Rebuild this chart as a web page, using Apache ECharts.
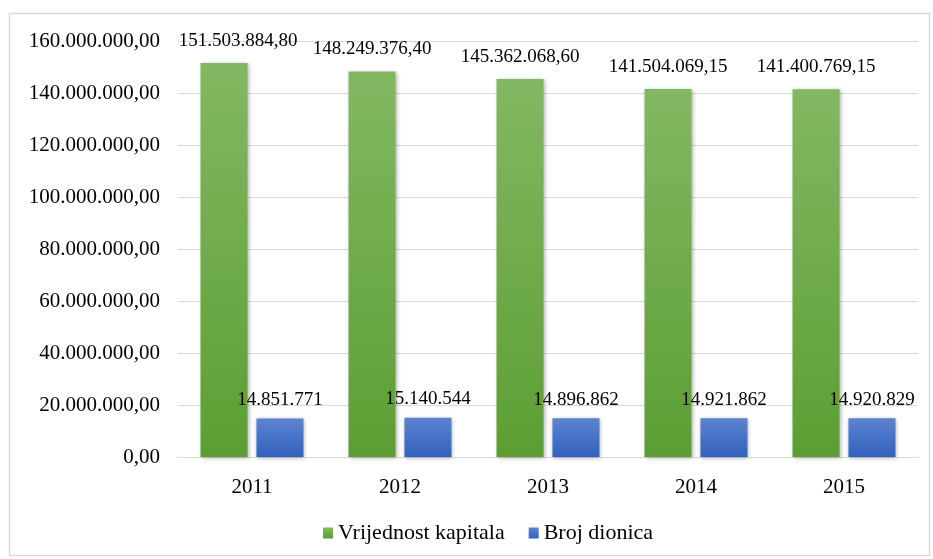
<!DOCTYPE html>
<html><head><meta charset="utf-8">
<script src="https://cdn.jsdelivr.net/npm/echarts@6/dist/echarts.min.js"></script>
<style>html,body{margin:0;padding:0;background:#fff}#c{width:933px;height:559px}</style>
</head><body><div id="c"></div>
<script>
const categories = ['2011','2012','2013','2014','2015'];
const capitalValues = [151503884.80, 148249376.40, 145362068.60, 141504069.15, 141400769.15];
const shareCounts = [14851771, 15140544, 14896862, 14921862, 14920829];
const seriesNames = ['Vrijednost kapitala', 'Broj dionica'];

function fmt(v, dec) {
  const s = v.toFixed(dec);
  const parts = s.split('.');
  const intPart = parts[0].replace(/\B(?=(\d{3})+(?!\d))/g, '.');
  return dec > 0 ? intPart + ',' + parts[1] : intPart;
}
const serif = '"Liberation Serif", "Times New Roman", serif';
const chart = echarts.init(document.getElementById('c'));
chart.setOption({
  animation: false,
  textStyle: { fontFamily: serif },
  graphic: [{ type: 'rect', shape: { x: 9.5, y: 13.5, width: 920, height: 542 }, style: { fill: 'none', stroke: '#d9d9d9', lineWidth: 1.5 }, silent: true }],
  grid: { left: 178, right: 15, top: 41, bottom: 102 },
  legend: {
    bottom: 10, left: 318, itemWidth: 10, itemHeight: 11, itemGap: 24,
    icon: 'rect',
    textStyle: { fontFamily: 'Liberation Serif', fontSize: 22, color: '#000' },
    data: seriesNames
  },
  xAxis: {
    type: 'category', data: categories,
    axisLine: { lineStyle: { color: '#d9d9d9', width: 1 } },
    axisTick: { show: false },
    axisLabel: { color: '#000', fontSize: 21, margin: 20, fontFamily: serif }
  },
  yAxis: {
    type: 'value', min: 0, max: 160000000, interval: 20000000,
    axisLine: { show: false }, axisTick: { show: false },
    splitLine: { lineStyle: { color: '#d9d9d9', width: 1 } },
    axisLabel: { color: '#000', fontSize: 21, margin: 18, fontFamily: serif, formatter: v => fmt(v, 2) }
  },
  series: [
    {
      name: seriesNames[0], type: 'bar', barWidth: 47, barGap: '19%',
      data: capitalValues.map((v, i) => i === 0 ? { value: v, label: { offset: [14, 0] } } : v),
      itemStyle: {
        color: new echarts.graphic.LinearGradient(0, 0, 0, 1, [{ offset: 0, color: '#82b862' }, { offset: 1, color: '#5c9e33' }]),
        shadowBlur: 4, shadowColor: 'rgba(0,0,0,0.3)', shadowOffsetX: 1, shadowOffsetY: 1
      },
      label: { show: true, position: 'top', distance: 13, color: '#000', fontSize: 19, fontFamily: serif, formatter: p => fmt(p.value, 2) }
    },
    {
      name: seriesNames[1], type: 'bar', data: shareCounts, barWidth: 47,
      itemStyle: {
        color: new echarts.graphic.LinearGradient(0, 0, 0, 1, [{ offset: 0, color: '#5d83d0' }, { offset: 1, color: '#3062bd' }]),
        shadowBlur: 4, shadowColor: 'rgba(0,0,0,0.3)', shadowOffsetX: 1, shadowOffsetY: 1
      },
      label: { show: true, position: 'top', distance: 9, color: '#000', fontSize: 19, fontFamily: serif, formatter: p => fmt(p.value, 0) }
    }
  ]
});
</script></body></html>
